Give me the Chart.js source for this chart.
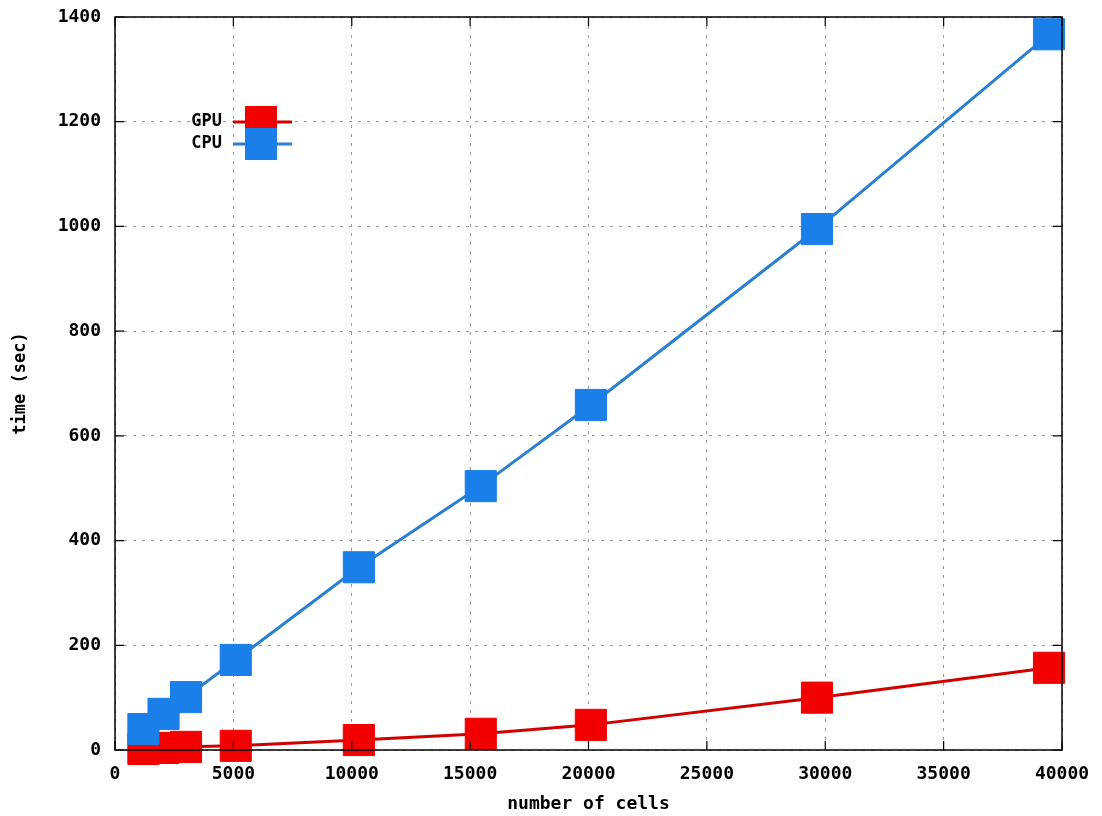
<!DOCTYPE html>
<html>
<head>
<meta charset="utf-8">
<script src="https://cdn.jsdelivr.net/npm/chart.js@4/dist/chart.umd.min.js"></script>
<style>
  html, body { margin: 0; padding: 0; background: #ffffff; }
  #wrap { width: 1102px; height: 816px; position: relative; }
</style>
</head>
<body>
<div id="wrap"><canvas id="c" width="1102" height="816"></canvas></div>
<script>
// ---- data ----
const cells   = [1200, 2050, 3000, 5100, 10300, 15450, 20100, 29650, 39450];
const gpuTime = [2, 4, 6, 8, 19, 31, 48, 100, 157];
const cpuTime = [40, 69, 101, 172, 349, 504, 659, 995, 1367];
const seriesNames = ['GPU', 'CPU'];
const xTitle = 'number of cells';
const yTitle = 'time (sec)';

const RED_PT = '#f20000', RED_LN = '#d00000';
const BLUE_PT = '#1b7fe9', BLUE_LN = '#2a7fd0';
const MONO = '"DejaVu Sans Mono", "Liberation Mono", monospace';

function pts(xs, ys) { return xs.map((x, i) => ({ x: x, y: ys[i] })); }

const framePlugin = {
  id: 'frame',
  afterDatasetsDraw(chart) {
    const { ctx, chartArea: { left, top, right, bottom }, scales: { x, y } } = chart;
    ctx.save();
    ctx.strokeStyle = '#000';
    ctx.lineWidth = 1.5;
    ctx.setLineDash([]);
    ctx.strokeRect(left, top, right - left, bottom - top);
    ctx.lineWidth = 1.2;
    const L = 9;
    x.ticks.forEach(t => {
      const px = x.getPixelForValue(t.value);
      ctx.beginPath();
      ctx.moveTo(px, bottom); ctx.lineTo(px, bottom - L);
      ctx.moveTo(px, top); ctx.lineTo(px, top + L);
      ctx.stroke();
    });
    y.ticks.forEach(t => {
      const py = y.getPixelForValue(t.value);
      ctx.beginPath();
      ctx.moveTo(left, py); ctx.lineTo(left + L, py);
      ctx.moveTo(right, py); ctx.lineTo(right - L, py);
      ctx.stroke();
    });
    ctx.restore();
  },
  afterDraw(chart) {
    const ctx = chart.ctx;
    ctx.save();
    ctx.font = 'bold 17px ' + MONO;
    ctx.textAlign = 'right';
    ctx.textBaseline = 'middle';
    const items = [
      { name: seriesNames[0], ln: RED_LN, pt: RED_PT, y: 122 },
      { name: seriesNames[1], ln: BLUE_LN, pt: BLUE_PT, y: 144 }
    ];
    items.forEach(it => {
      ctx.fillStyle = '#000';
      ctx.fillText(it.name, 222, it.y);
      ctx.strokeStyle = it.ln;
      ctx.lineWidth = 3;
      ctx.beginPath();
      ctx.moveTo(233, it.y); ctx.lineTo(292, it.y);
      ctx.stroke();
      ctx.fillStyle = it.pt;
      ctx.fillRect(245, it.y - 16, 32, 32);
    });
    ctx.restore();
  }
};

new Chart(document.getElementById('c'), {
  type: 'line',
  data: {
    datasets: [
      {
        label: seriesNames[0],
        data: pts(cells, gpuTime),
        borderColor: RED_LN,
        backgroundColor: RED_PT,
        borderWidth: 3,
        pointStyle: 'rect',
        pointRadius: 22,
        pointBackgroundColor: RED_PT,
        pointBorderColor: RED_PT,
        pointBorderWidth: 1,
        tension: 0,
        clip: false,
        order: 1
      },
      {
        label: seriesNames[1],
        data: pts(cells, cpuTime),
        borderColor: BLUE_LN,
        backgroundColor: BLUE_PT,
        borderWidth: 3,
        pointStyle: 'rect',
        pointRadius: 22,
        pointBackgroundColor: BLUE_PT,
        pointBorderColor: BLUE_PT,
        pointBorderWidth: 1,
        tension: 0,
        clip: false,
        order: 0
      }
    ]
  },
  options: {
    responsive: false,
    animation: false,
    layout: { autoPadding: false, padding: { top: 17, right: 40, left: 0, bottom: 0 } },
    plugins: {
      legend: { display: false },
      tooltip: { enabled: false },
      title: { display: false }
    },
    scales: {
      x: {
        type: 'linear',
        min: 0, max: 40000,
        ticks: {
          stepSize: 5000,
          color: '#000',
          font: { family: MONO, size: 18, weight: 'bold' },
          padding: 14,
          maxRotation: 0,
          callback: v => String(v)
        },
        grid: { color: '#9a9a9a', lineWidth: 1, drawTicks: false },
        border: { display: false, dash: [3, 6] },
        title: {
          display: true, text: xTitle, color: '#000',
          font: { family: MONO, size: 18, weight: 'bold' },
          padding: { top: 0, bottom: 1 }
        },
        afterFit(scale) {
          scale.height = 66;
          scale.paddingLeft = 0; scale.paddingRight = 0;
        }
      },
      y: {
        type: 'linear',
        min: 0, max: 1400,
        ticks: {
          stepSize: 200,
          color: '#000',
          font: { family: MONO, size: 18, weight: 'bold' },
          padding: 14,
          callback: v => String(v)
        },
        grid: { color: '#9a9a9a', lineWidth: 1, drawTicks: false },
        border: { display: false, dash: [3, 6] },
        title: {
          display: true, text: yTitle, color: '#000',
          font: { family: MONO, size: 17, weight: 'bold' },
          padding: { top: 10, bottom: 0 }
        },
        afterFit(scale) {
          scale.width = 115;
          scale.paddingTop = 0; scale.paddingBottom = 0;
        }
      }
    }
  },
  plugins: [framePlugin]
});
</script>
</body>
</html>
